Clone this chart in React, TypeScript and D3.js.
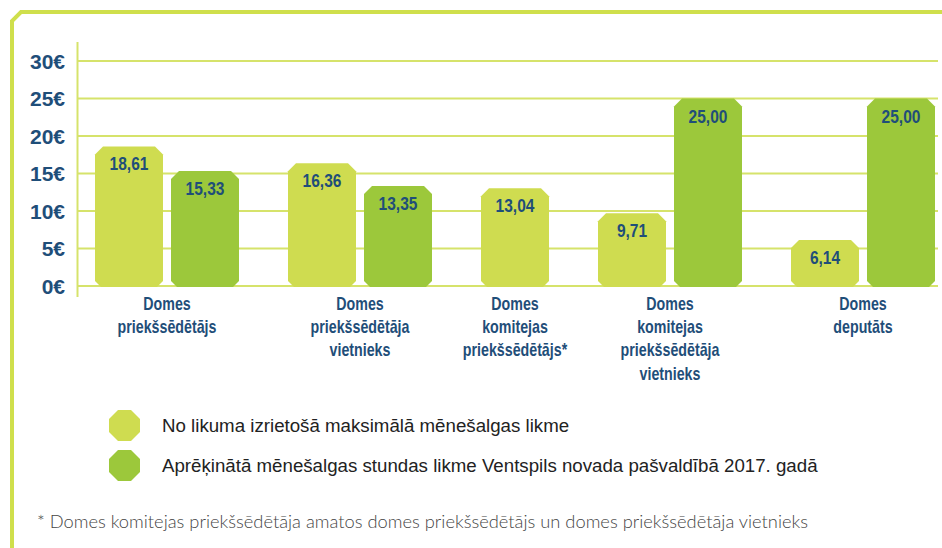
import React, { useEffect, useRef } from 'react';
import * as d3 from 'd3';

// chart data
const categories: string[][] = [
  ['Domes', 'priekšsēdētājs'],
  ['Domes', 'priekšsēdētāja', 'vietnieks'],
  ['Domes', 'komitejas', 'priekšsēdētājs*'],
  ['Domes', 'komitejas', 'priekšsēdētāja', 'vietnieks'],
  ['Domes', 'deputāts'],
];
const maxRate: (number | null)[] = [18.61, 16.36, 13.04, 9.71, 6.14];
const actualRate: (number | null)[] = [15.33, 13.35, null, 25.0, 25.0];
const yTicks = [0, 5, 10, 15, 20, 25, 30];
const seriesNames = [
  'No likuma izrietošā maksimālā mēnešalgas likme',
  'Aprēķinātā mēnešalgas stundas likme Ventspils novada pašvaldībā 2017. gadā',
];
const footnote = '* Domes komitejas priekšsēdētāja amatos domes priekšsēdētājs un domes priekšsēdētāja vietnieks';

const W = 942;
const H = 548;
const LIGHT = '#cfdc50';
const DARK = '#9cc83b';
const GRID = '#d6e36b';
const FRAME = '#cfdf4c';
const BLUE = '#1f4e79';
const SANS = '"Liberation Sans", Arial, sans-serif';

// bar outline with cut corners
const barPath = (x: number, y: number, w: number, h: number, ct: number, cb: number) => {
  return `M${x + ct},${y} L${x + w - ct},${y} L${x + w},${y + ct} L${x + w},${y + h - cb} L${x + w - cb},${y + h} L${x + cb},${y + h} L${x},${y + h - cb} L${x},${y + ct} Z`;
};

const App = () => {
  const svgRef = useRef<SVGSVGElement>(null);

  useEffect(() => {
    document.body.style.margin = '0';
    const svg = d3.select(svgRef.current);
    svg.selectAll('*').remove();

    const y = d3.scaleLinear().domain([0, 30]).range([286, 61]);
    const barW = 68;
    // slot index -> x, plus extra spacing between groups
    const slotX = d3.scaleLinear().domain([0, 1]).range([95, 171]);
    const groupGap = d3.scaleLinear().domain([0, 1]).range([0, 41]);

    // flatten bars
    const bars: { g: number; v: number; color: string; x: number }[] = [];
    let slot = 0;
    categories.forEach((_, g) => {
      [[maxRate[g], LIGHT], [actualRate[g], DARK]].forEach(([v, c]) => {
        if (v == null) return;
        bars.push({ g, v: v as number, color: c as string, x: slotX(slot) + groupGap(g) });
        slot++;
      });
    });

    // frame
    svg.append('path')
      .attr('d', `M12,${H} L12,21 L21,12 L${W},12`)
      .attr('fill', 'none')
      .attr('stroke', FRAME)
      .attr('stroke-width', 4);

    // grid
    svg.append('g').selectAll('line')
      .data(yTicks)
      .enter()
      .append('line')
      .attr('x1', 77)
      .attr('x2', 938)
      .attr('y1', d => y(d))
      .attr('y2', d => y(d))
      .attr('stroke', GRID)
      .attr('stroke-width', 2);

    svg.append('line')
      .attr('x1', 77.5).attr('x2', 77.5)
      .attr('y1', 42).attr('y2', 297)
      .attr('stroke', GRID)
      .attr('stroke-width', 2);

    svg.append('g').selectAll('text')
      .data(yTicks)
      .enter()
      .append('text')
      .attr('x', 65)
      .attr('y', d => y(d) + 7.5)
      .attr('text-anchor', 'end')
      .attr('font-family', SANS)
      .attr('font-weight', 'bold')
      .attr('font-size', 21)
      .attr('fill', BLUE)
      .text(d => `${d}€`);

    // bars
    const bg = svg.append('g');
    bg.selectAll('path')
      .data(bars)
      .enter()
      .append('path')
      .attr('d', d => barPath(d.x, y(d.v), barW, y(0) + 1 - y(d.v), 8, 6))
      .attr('fill', d => d.color);

    const fmt = d3.format('.2f');
    bg.selectAll('text')
      .data(bars)
      .enter()
      .append('text')
      .attr('transform', d => `translate(${d.x + barW / 2},${y(d.v) + 24}) scale(0.84,1)`)
      .attr('text-anchor', 'middle')
      .attr('font-family', SANS)
      .attr('font-weight', 'bold')
      .attr('font-size', 18.5)
      .attr('fill', BLUE)
      .text(d => fmt(d.v).replace('.', ','));

    // category labels
    categories.forEach((lines, g) => {
      const gb = bars.filter(b => b.g === g);
      const cx = (gb[0].x + gb[gb.length - 1].x + barW) / 2;
      const t = svg.append('text')
        .attr('transform', `translate(${cx},309.5) scale(0.79,1)`)
        .attr('text-anchor', 'middle')
        .attr('font-family', SANS)
        .attr('font-weight', 'bold')
        .attr('font-size', 18)
        .attr('fill', BLUE);
      lines.forEach((l, i) => {
        t.append('tspan').attr('x', 0).attr('y', i * 23.5).text(l);
      });
    });

    // legend
    const lg = svg.append('g');
    seriesNames.forEach((name, i) => {
      const ly = 410 + i * 40;
      lg.append('path')
        .attr('d', barPath(109, ly, 31, 31, 9, 9))
        .attr('fill', i === 0 ? LIGHT : DARK);
      lg.append('text')
        .attr('x', 162)
        .attr('y', ly + 22)
        .attr('font-family', SANS)
        .attr('font-size', 18.7)
        .attr('fill', '#222')
        .text(name);
    });

    svg.append('text')
      .attr('x', 37)
      .attr('y', 528)
      .attr('font-family', 'Lato, "Open Sans", sans-serif')
      .attr('font-weight', 300)
      .attr('font-size', 17)
      .attr('fill', '#444')
      .attr('textLength', 771)
      .attr('lengthAdjust', 'spacingAndGlyphs')
      .text(footnote);
  }, []);

  return <svg ref={svgRef} width={W} height={H} style={{ display: 'block', background: '#fff' }} />;
};

export default App;
